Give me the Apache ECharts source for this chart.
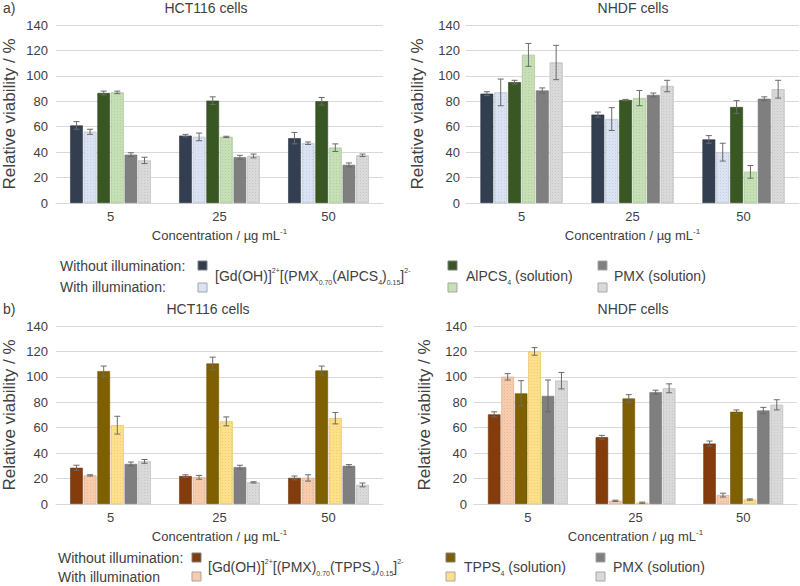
<!DOCTYPE html>
<html><head><meta charset="utf-8">
<script src="https://cdn.jsdelivr.net/npm/echarts@6/dist/echarts.min.js"></script>
<style>html,body{margin:0;padding:0;background:#fff}#c{width:800px;height:586px}</style>
</head><body><div id="c"></div><script>
// ---------------- data ----------------
const categories = ['5', '25', '50'];
const yMin = 0, yMax = 140, yStep = 20;

// series order in every panel: compound dark, compound light, dye dark, dye light, PMX dark, PMX light
const aHctValues  = [[61, 53, 51], [56, 52, 47], [86.5, 80.5, 80], [87, 52, 43.5], [38, 36, 30], [33.5, 37, 37.5]];
const aHctErrors  = [[3, 1, 4.5], [2, 3, 1], [1.5, 3, 3], [1, 0.5, 3], [1.5, 1.5, 1.5], [2.5, 1.5, 1]];
const aNhdfValues = [[86, 69.5, 50], [87, 66, 40], [95, 81, 75.5], [116.5, 82.5, 24.5], [88.5, 85, 82], [110.5, 92, 89.5]];
const aNhdfErrors = [[1.5, 2, 3], [10.5, 9, 7], [1.5, 0.5, 5], [9, 6, 5], [2, 1.5, 1.5], [13.5, 4.5, 7]];
const bHctValues  = [[28.5, 22, 20.5], [22.5, 21, 20.5], [104.5, 110.5, 105], [62, 65, 67.5], [31.5, 29, 30], [33.5, 17, 15]];
const bHctErrors  = [[2, 1, 1.5], [0.5, 1.5, 2.5], [4, 5, 3.5], [7, 3.5, 4.5], [1.5, 1.5, 1], [1.5, 0.5, 1.5]];
const bNhdfValues = [[70.5, 52.5, 47.5], [100, 2.5, 7], [87, 83, 72.5], [120, 1, 3.5], [85, 88, 73.5], [97, 91, 78]];
const bNhdfErrors = [[2, 1.5, 2], [2.5, 0.5, 1.5], [10, 3, 1.5], [3, 0.5, 0.5], [12.5, 1.5, 2.5], [6.5, 3.5, 4]];

const aSeriesNames = [
  '[Gd(OH)]2+[(PMX0.70(AlPCS4)0.15]2- without illumination',
  '[Gd(OH)]2+[(PMX0.70(AlPCS4)0.15]2- with illumination',
  'AlPCS4 (solution) without illumination', 'AlPCS4 (solution) with illumination',
  'PMX (solution) without illumination', 'PMX (solution) with illumination'];
const bSeriesNames = [
  '[Gd(OH)]2+[(PMX)0.70(TPPS4)0.15]2- without illumination',
  '[Gd(OH)]2+[(PMX)0.70(TPPS4)0.15]2- with illumination',
  'TPPS4 (solution) without illumination', 'TPPS4 (solution) with illumination',
  'PMX (solution) without illumination', 'PMX (solution) with illumination'];

// ---------------- styles ----------------
const aColors = ['#333f50', '#dae3f3', '#385723', '#c5e0b4', '#7f7f7f', '#d9d9d9'];
const bColors = ['#843c0c', '#f8cbad', '#7f6000', '#ffe08a', '#7f7f7f', '#d9d9d9'];
const aBorders = ['#2a3442', '#c4cbd8', '#2e4a1d', '#b2cca2', '#6f6f6f', '#c6c6c6'];
const bBorders = ['#6e320a', '#e5b79a', '#6b5100', '#eccb6c', '#6f6f6f', '#c6c6c6'];
const FONT = '"Liberation Sans", Arial, sans-serif';
const TXT = '#404040';
const CAT_GAP = 0.26, BAR_GAP = 0.08;

const grids = [
  {left: 56, top: 25, width: 327, height: 178},
  {left: 466, top: 25, width: 333, height: 178},
  {left: 56, top: 326, width: 327, height: 178},
  {left: 474, top: 326, width: 323, height: 178}
];
const labelMargins = [8, 6, 8, 7];
const nameGaps = [38, 40, 38, 41];
const panels = [
  {values: aHctValues, errors: aHctErrors, names: aSeriesNames, colors: aColors, borders: aBorders},
  {values: aNhdfValues, errors: aNhdfErrors, names: aSeriesNames, colors: aColors, borders: aBorders},
  {values: bHctValues, errors: bHctErrors, names: bSeriesNames, colors: bColors, borders: bBorders},
  {values: bNhdfValues, errors: bNhdfErrors, names: bSeriesNames, colors: bColors, borders: bBorders}
];

const supSub = {
  sup: {fontSize: 8, lineHeight: 8, verticalAlign: 'top', fontFamily: FONT, color: TXT},
  sub: {fontSize: 8, lineHeight: 8, verticalAlign: 'bottom', fontFamily: FONT, color: TXT}
};

const xAxes = grids.map((g, p) => ({
  type: 'category', gridIndex: p, data: categories,
  axisLine: {lineStyle: {color: '#d9d9d9'}}, axisTick: {show: false},
  axisLabel: {fontSize: 13, color: TXT, fontFamily: FONT, margin: 7},
  name: 'Concentration / µg mL{sup|-1}', nameLocation: 'middle', nameGap: 24,
  nameTextStyle: {fontSize: 13, color: TXT, fontFamily: FONT, lineHeight: 16, rich: supSub}
}));
const yAxes = grids.map((g, p) => ({
  type: 'value', gridIndex: p, min: yMin, max: yMax, interval: yStep,
  axisLine: {show: false}, axisTick: {show: false},
  splitLine: {lineStyle: {color: '#d9d9d9'}},
  axisLabel: {fontSize: 13, color: TXT, fontFamily: FONT, margin: labelMargins[p]},
  name: 'Relative viability / %', nameLocation: 'middle', nameGap: nameGaps[p],
  nameTextStyle: {fontSize: 17, color: TXT, fontFamily: FONT}
}));

const lightDecal = {symbol: 'rect', symbolSize: 1, dashArrayX: [1, 2], dashArrayY: [1, 2], color: 'rgba(120,100,80,0.16)'};

function makeErr(i) {
  return function (params, api) {
    const k = api.value(0), v = api.value(1), e = api.value(2);
    const band = api.size([1, 0])[0];
    const total = band * (1 - CAT_GAP);
    const w = total / (6 + 5 * BAR_GAP);
    const x = api.coord([k, v])[0] - total / 2 + w / 2 + i * w * (1 + BAR_GAP);
    const yt = api.coord([k, v + e])[1];
    const yb = api.coord([k, Math.max(v - e, 0)])[1];
    const c = 3;
    const st = {stroke: '#6a6a6a', lineWidth: 1};
    return {type: 'group', children: [
      {type: 'line', shape: {x1: x, y1: yt, x2: x, y2: yb}, style: st},
      {type: 'line', shape: {x1: x - c, y1: yt, x2: x + c, y2: yt}, style: st},
      {type: 'line', shape: {x1: x - c, y1: yb, x2: x + c, y2: yb}, style: st}
    ]};
  };
}

const series = [];
panels.forEach((pn, p) => {
  pn.values.forEach((vals, i) => {
    const itemStyle = {color: pn.colors[i], borderColor: pn.borders[i], borderWidth: 0.6};
    if (i % 2 === 1) itemStyle.decal = lightDecal;
    series.push({
      type: 'bar', name: pn.names[i], xAxisIndex: p, yAxisIndex: p, data: vals,
      barGap: (BAR_GAP * 100) + '%', barCategoryGap: (CAT_GAP * 100) + '%',
      itemStyle: itemStyle,
      emphasis: {disabled: true}, silent: true
    });
  });
  pn.values.forEach((vals, i) => {
    series.push({
      type: 'custom', name: pn.names[i] + ' error', xAxisIndex: p, yAxisIndex: p, z: 10,
      data: vals.map((v, k) => [k, v, pn.errors[i][k]]),
      encode: {x: 0, y: 1}, renderItem: makeErr(i), silent: true
    });
  });
});

// ---------------- titles and legends ----------------
function txt(x, y, text, size, align) {
  return {type: 'text', x: x, y: y, silent: true, style: {
    text: text, fontSize: size, fontFamily: FONT, fill: TXT, align: align || 'left', verticalAlign: 'middle',
    rich: {
      sup: {fontSize: 7, lineHeight: 7, verticalAlign: 'top', fontFamily: FONT, fill: TXT},
      sub: {fontSize: 7, lineHeight: 7, verticalAlign: 'bottom', fontFamily: FONT, fill: TXT},
      n: {fontSize: size, lineHeight: 19, fontFamily: FONT, fill: TXT}
    }}};
}
function sq(x, y, fill, stroke) {
  return {type: 'rect', shape: {x: x, y: y, width: 9, height: 9}, silent: true,
          style: {fill: fill, stroke: stroke, lineWidth: 1}};
}
const graphics = [
  txt(3, 8, 'a)', 14), txt(3, 309, 'b)', 14),
  txt(206, 8, 'HCT116 cells', 14, 'center'), txt(633, 8, 'NHDF cells', 14, 'center'),
  txt(208, 309, 'HCT116 cells', 14, 'center'), txt(633, 309, 'NHDF cells', 14, 'center'),
  // legend a
  txt(60, 266, 'Without illumination:', 14), txt(60, 287, 'With illumination:', 14),
  sq(198, 261, aColors[0], '#7f7f7f'), sq(198, 283, aColors[1], '#a6a6a6'),
  txt(215, 276, '{n|[Gd(OH)]}{sup|2+}{n|[(PMX}{sub|0.70}{n|(AlPCS}{sub|4}{n|)}{sub|0.15}{n|]}{sup|2-}', 14),
  sq(448, 261, aColors[2], '#7f7f7f'), sq(448, 283, aColors[3], '#a6a6a6'),
  txt(466, 276, '{n|AlPCS}{sub|4}{n| (solution)}', 14),
  sq(598, 261, aColors[4], '#a6a6a6'), sq(598, 283, aColors[5], '#a6a6a6'),
  txt(614, 276, 'PMX (solution)', 14),
  // legend b
  txt(58, 558, 'Without illumination:', 14), txt(58, 577, 'With illumination', 14),
  sq(192, 553, bColors[0], '#7f7f7f'), sq(192, 572, bColors[1], '#a6a6a6'),
  txt(208, 567, '{n|[Gd(OH)]}{sup|2+}{n|[(PMX)}{sub|0.70}{n|(TPPS}{sub|4}{n|)}{sub|0.15}{n|]}{sup|2-}', 14),
  sq(446, 553, bColors[2], '#7f7f7f'), sq(446, 572, bColors[3], '#a6a6a6'),
  txt(464, 567, '{n|TPPS}{sub|4}{n| (solution)}', 14),
  sq(596, 553, bColors[4], '#a6a6a6'), sq(596, 572, bColors[5], '#a6a6a6'),
  txt(613, 567, 'PMX (solution)', 14)
];

const chart = echarts.init(document.getElementById('c'), null, {renderer: 'svg'});
chart.setOption({
  animation: false,
  backgroundColor: '#ffffff',
  grid: grids,
  xAxis: xAxes,
  yAxis: yAxes,
  series: series,
  graphic: graphics
});
</script></body></html>
